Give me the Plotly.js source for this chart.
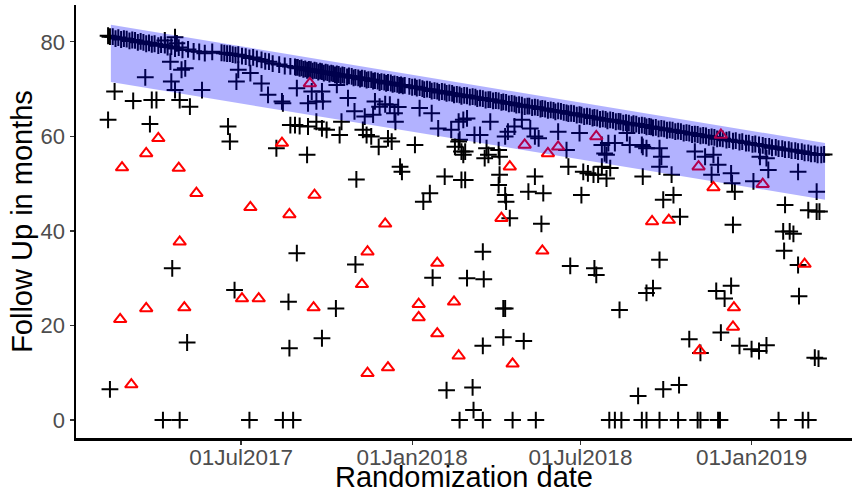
<!DOCTYPE html>
<html>
<head>
<meta charset="utf-8">
<script src="https://cdn.plot.ly/plotly-3.0.1.min.js"></script>
<style>
  html, body { margin: 0; padding: 0; background: #ffffff; }
  #chart { width: 854px; height: 493px; }
</style>
</head>
<body>
<div id="chart"></div>
<script>
// Randomization dates are stored as days since the study start (2017-01-01).
const studyStart = Date.UTC(2017, 0, 1);

// Censored patients (+): randomization day and follow-up in months
const censoredDay = [
  // most recent contact, along the upper edge
  38, 40, 43, 46, 49, 52, 55, 58, 61, 64, 67, 70, 73, 76, 79, 82, 85, 88, 92, 95, 99, 99, 102, 106, 110, 110, 112, 114, 118, 124, 130, 136, 142,
  150, 160, 163, 166, 169, 172, 175, 178, 182, 186, 190, 194, 198, 203, 207, 211,
  215, 222, 228, 234, 239,
  240, 242, 244, 246, 248, 250, 252, 254, 256, 258, 260, 262, 264, 266, 268, 270, 272, 274, 276, 278, 280, 282, 284, 286, 288,
  290, 292, 295, 297, 300, 302, 304, 307, 309, 311, 314, 316, 318, 321, 323, 325, 328, 330, 332, 335, 337, 339, 342, 344, 346, 349, 351, 353, 355, 357,
  362, 365, 368, 370, 373, 376, 378, 381, 384, 386, 389, 392, 394, 397, 400, 402, 405, 408, 410, 413, 416, 418, 421, 424, 427,
  430, 433, 435, 438, 441, 444, 447, 449, 452, 455, 458, 461, 463, 466, 469, 472, 475, 477, 480, 483, 486, 489, 491, 494, 497, 500, 503, 505, 508, 511, 514, 517, 519, 522, 525,
  528, 531, 533, 536, 539, 542, 545, 547, 550, 553, 556, 559, 561, 564, 567, 570, 573, 575, 578, 581, 584, 587, 589, 592, 595, 598, 601, 603, 606, 609, 612, 615, 617, 620, 622,
  624, 627, 630, 633, 636, 639, 642, 645, 648, 651, 654, 657, 660, 663, 666, 669, 672, 675, 678, 681, 684, 687, 690, 693, 696,
  699, 703, 706, 710, 713, 717, 720, 724, 727, 731, 734, 738,
  742, 745, 749, 752, 756, 759, 763, 766, 770, 773, 777, 780, 784, 787, 791, 794, 798, 801, 805, 808,
  // earlier last contact
  105, 117, 121, 78, 106, 110, 45, 65, 85, 90, 115, 126, 139, 178, 176, 191, 203, 210, 225, 38, 83, 167, 169, 219,
  241, 257, 268, 269, 253, 262, 226, 284, 296, 303, 314, 323, 325, 341, 346, 347, 373, 386, 393, 407, 415, 416, 330, 336, 350,
  234, 239, 244, 253, 262, 268, 273, 289, 287, 312, 316, 321, 329, 339, 343, 368, 411, 415, 420, 252, 352, 354, 305, 400, 418, 384, 377,
  424, 420, 449, 432, 438, 465, 468, 475, 483, 492, 497, 501, 522, 545, 569, 576, 583, 596, 599, 612, 572, 574, 531,
  418, 422, 445, 447, 443, 458, 459, 422, 459, 458, 465, 466, 470, 497, 490, 506, 504, 533, 547, 549, 554, 560, 565, 569, 574, 578, 613,
  613, 617, 631, 633, 631, 669, 680, 689, 694, 687, 708, 709, 712, 732, 739, 746, 748, 780, 800, 644, 635, 646, 653, 766, 791, 800, 803, 710,
  107, 174, 123, 40, 232, 241, 304, 387, 283, 268, 233, 402, 441, 535, 561, 563, 424, 442, 463, 465, 588, 463, 485, 441, 430, 431, 608,
  764, 771, 775, 765, 631, 780, 781, 617, 624, 692, 701, 708, 697, 663, 675, 717, 730, 738, 746, 798, 802, 635, 652,
  97, 115, 190, 226, 237, 416, 441, 473, 498, 577, 583, 590, 612, 617, 631, 651, 672, 675, 694, 696, 759, 785, 791
];
const censoredFU = [
  81.3, 81.1, 81.1, 80.7, 80.9, 80.5, 80.7, 80.6, 80.2, 80.4, 80.3, 79.9, 80.1, 79.9, 79.6, 79.8, 79.5, 79.6, 79.2, 79.4, 79.3, 80.3, 78.9, 79.0, 78.6, 81.0, 79.7, 78.8, 78.3, 78.4, 78.0, 77.9, 77.6,
  77.9, 77.7, 77.6, 77.5, 77.5, 77.3, 77.2, 77.3, 77.0, 76.9, 76.6, 76.7, 76.4, 76.2, 75.9, 75.8,
  75.4, 75.2, 74.9, 74.8, 74.7,
  74.6, 74.6, 74.4, 74.5, 74.2, 74.3, 74.0, 74.2, 74.1, 73.8, 74.0, 73.9, 73.6, 73.8, 73.7, 73.4, 73.6, 73.5, 73.2, 73.4, 73.3, 73.0, 73.2, 73.1, 72.8,
  73.0, 72.9, 72.6, 72.8, 72.7, 72.4, 72.5, 72.4, 72.1, 72.3, 72.2, 71.9, 72.0, 72.0, 71.7, 71.8, 71.7, 71.4, 71.6, 71.5, 71.2, 71.4, 71.3, 71.0, 71.1, 71.0, 70.8, 70.9, 70.7, 70.8,
  70.6, 70.4, 70.5, 70.2, 70.3, 70.1, 69.9, 70.0, 69.9, 69.6, 69.7, 69.6, 69.3, 69.5, 69.4, 69.1, 69.2, 69.1, 68.8, 68.9, 68.8, 68.5, 68.7, 68.6, 68.3,
  68.4, 68.3, 68.0, 68.1, 68.0, 67.7, 67.8, 67.8, 67.5, 67.6, 67.5, 67.2, 67.3, 67.2, 66.9, 67.0, 66.9, 66.6, 66.7, 66.6, 66.3, 66.4, 66.4, 66.1, 66.2, 66.1, 65.8, 65.9, 65.8, 65.5, 65.6, 65.5, 65.2, 65.4, 65.3,
  65.1, 65.0, 64.8, 64.9, 64.8, 64.5, 64.6, 64.5, 64.2, 64.3, 64.2, 63.9, 64.0, 63.9, 63.6, 63.7, 63.6, 63.3, 63.5, 63.4, 63.1, 63.2, 63.1, 62.8, 62.9, 62.8, 62.5, 62.7, 62.6, 62.3, 62.4, 62.3, 62.0, 62.1, 62.0,
  61.8, 61.9, 61.6, 61.7, 61.6, 61.3, 61.4, 61.3, 61.0, 61.1, 61.0, 60.7, 60.8, 60.7, 60.4, 60.5, 60.4, 60.1, 60.2, 60.1, 59.8, 59.9, 59.8, 59.5, 59.6,
  59.5, 59.2, 59.3, 59.0, 59.1, 58.8, 58.9, 58.6, 58.6, 58.3, 58.4, 58.2,
  58.1, 57.9, 57.9, 57.6, 57.7, 57.4, 57.4, 57.2, 57.2, 57.0, 57.0, 56.8, 56.8, 56.5, 56.5, 56.3, 56.3, 56.1, 56.1, 56.2,
  75.8, 74.1, 74.4, 72.5, 71.6, 69.8, 69.5, 67.5, 67.7, 67.7, 67.7, 66.3, 69.8, 74.1, 71.6, 73.4, 71.2, 68.8, 67.4, 63.5, 62.6, 62.1, 58.9, 57.5,
  70.2, 69.5, 69.5, 67.4, 67.0, 67.4, 67.0, 70.9, 68.1, 65.3, 64.2, 64.6, 67.4, 66.7, 64.9, 63.1, 66.0, 64.9, 61.7, 61.4, 63.1, 59.3, 66.3, 66.8, 66.2,
  62.4, 62.4, 62.2, 62.1, 63.1, 61.7, 61.4, 63.1, 60.3, 61.4, 60.3, 60.0, 57.8, 59.6, 58.9, 58.2, 57.8, 58.9, 56.1, 56.1, 53.6, 52.5, 50.9, 51.5, 50.8, 48.0, 46.2,
  63.8, 63.5, 63.1, 60.3, 60.3, 60.0, 61.0, 62.1, 63.5, 61.7, 60.0, 59.6, 61.0, 60.7, 58.2, 58.6, 58.6, 60.7, 58.2, 58.2, 56.4, 56.1, 57.1,
  56.8, 56.8, 57.5, 56.1, 55.4, 57.1, 55.7, 50.8, 51.9, 49.7, 47.6, 46.2, 42.7, 51.5, 48.3, 48.0, 41.5, 53.6, 47.6, 52.5, 52.2, 51.9, 51.9, 53.6, 51.1, 53.3, 51.5,
  57.8, 57.5, 57.5, 55.7, 53.6, 56.8, 55.7, 56.1, 54.0, 51.9, 52.2, 50.1, 48.3, 50.5, 55.7, 55.4, 52.9, 52.5, 48.3, 51.9, 46.6, 47.6, 43.0, 45.5, 44.4, 44.1, 44.1, 41.3,
  32.1, 27.5, 16.4, 6.5, 25.0, 35.3, 32.9, 30.1, 23.6, 17.3, 15.2, 6.3, 35.6, 32.6, 32.1, 30.7, 30.0, 29.8, 23.6, 23.6, 23.3, 17.5, 16.7, 15.7, 6.9, 2.1, 5.1,
  39.9, 39.9, 39.4, 35.8, 33.9, 32.8, 26.2, 26.9, 27.9, 27.3, 25.7, 28.4, 18.5, 17.1, 14.2, 15.7, 15.0, 14.6, 15.8, 13.2, 13.0, 6.5, 7.4,
  0, 0, 0, 0, 0, 0, 0, 0, 0, 0, 0, 0, 0, 0, 0, 0, 0, 0, 0, 0, 0, 0, 0
];

// Patients with an event (triangles)
const eventDay = [
  92, 79, 53, 114, 133, 191, 225, 255, 260, 233, 336, 486, 511, 522, 563, 470, 461, 697, 673, 689, 742, 623, 641,
  115, 182, 200, 79, 120, 51, 63, 317, 392, 311, 259, 372, 410, 372, 392, 415, 317, 339, 505, 473, 787, 711, 710, 674
];
const eventFU = [
  59.6, 56.4, 53.4, 53.3, 48.0, 45.0, 58.6, 71.2, 47.6, 43.5, 41.5, 58.2, 56.4, 57.8, 60.0, 53.6, 42.7, 60.3, 53.6, 49.2, 49.9, 42.0, 42.3,
  37.7, 25.7, 25.7, 23.6, 23.8, 21.3, 7.5, 35.6, 33.2, 28.7, 23.8, 24.5, 25.0, 21.7, 18.3, 13.6, 9.9, 11.1, 35.8, 11.9, 33.0, 23.8, 19.7, 14.7
];

// Shaded band of expected follow-up
const bandDay = [41, 809];
const bandTop = [83.6, 58.6];
const bandBottom = [71.5, 46.6];

// Axis settings
const xRangeDay = [3.5, 838];
const yRange = [-3.8, 87.8];
const xTickDates = ['2017-07-01', '2018-01-01', '2018-07-01', '2019-01-01'];
const xTickText = ['01Jul2017', '01Jan2018', '01Jul2018', '01Jan2019'];
const yTicks = [0, 20, 40, 60, 80];

function dayToDate(d) {
  return new Date(studyStart + d * 86400000).toISOString().slice(0, 16).replace('T', ' ');
}

const font = 'Liberation Sans, Arial, Helvetica, sans-serif';

const traces = [
  {
    type: 'scatter', mode: 'markers',
    x: censoredDay.map(dayToDate), y: censoredFU,
    marker: { symbol: 'cross-thin-open', size: 12, color: '#000000', line: { width: 2, color: '#000000' } },
    hoverinfo: 'skip', showlegend: false
  },
  {
    type: 'scatter', mode: 'markers',
    x: eventDay.map(dayToDate), y: eventFU,
    marker: { symbol: 'triangle-up-open', size: 11, color: '#ff0000', line: { width: 2, color: '#ff0000' } },
    hoverinfo: 'skip', showlegend: false
  },
  {
    // translucent band drawn over the points
    type: 'scatter', mode: 'lines',
    x: [bandDay[0], bandDay[1], bandDay[1], bandDay[0], bandDay[0]].map(dayToDate),
    y: [bandTop[0], bandTop[1], bandBottom[1], bandBottom[0], bandTop[0]],
    fill: 'toself', fillcolor: 'rgba(0,0,255,0.3)',
    line: { width: 0, color: 'rgba(0,0,0,0)' },
    hoverinfo: 'skip', showlegend: false
  }
];

const layout = {
  width: 854, height: 493,
  margin: { l: 76, r: 2, t: 5, b: 55 },
  paper_bgcolor: '#ffffff', plot_bgcolor: '#ffffff',
  font: { family: font },
  showlegend: false,
  xaxis: {
    type: 'date',
    range: xRangeDay.map(dayToDate),
    tickvals: xTickDates, ticktext: xTickText,
    showgrid: false, zeroline: false,
    showline: true, linecolor: '#000000', linewidth: 2.5,
    ticks: 'outside', ticklen: 4, tickwidth: 1.2, tickcolor: '#333333',
    ticklabelstandoff: -7,
    tickfont: { size: 22.5, color: '#4d4d4d', family: font },
    title: { text: 'Randomization date', font: { size: 29, color: '#000000', family: font }, standoff: 3 }
  },
  yaxis: {
    range: yRange,
    tickvals: yTicks,
    showgrid: false, zeroline: false,
    showline: true, linecolor: '#000000', linewidth: 2.5,
    ticks: 'outside', ticklen: 4, tickwidth: 1.2, tickcolor: '#333333',
    tickfont: { size: 22, color: '#4d4d4d', family: font },
    title: { text: 'Follow Up in months', font: { size: 29, color: '#000000', family: font }, standoff: 0 }
  }
};

Plotly.newPlot('chart', traces, layout, { staticPlot: true, displayModeBar: false });
</script>
</body>
</html>
